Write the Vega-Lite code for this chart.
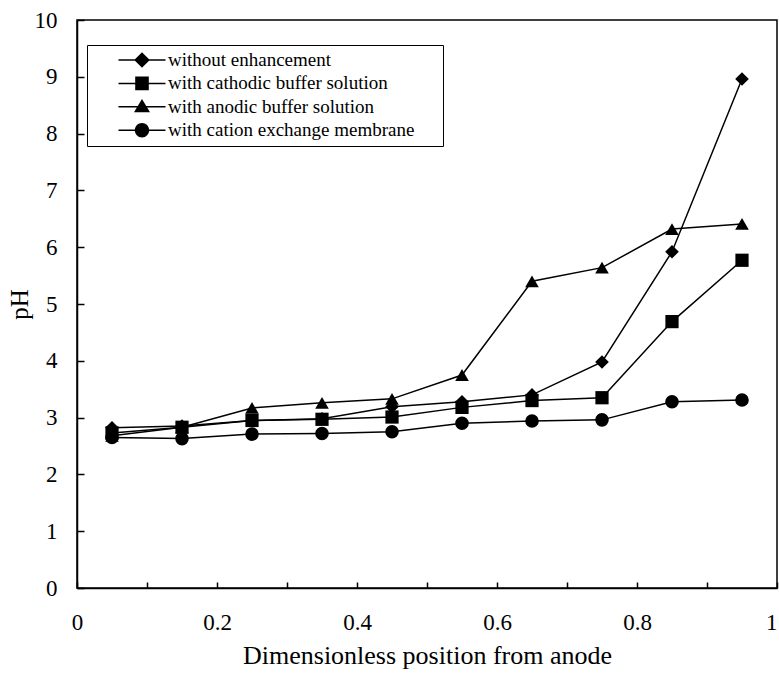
{
  "$schema": "https://vega.github.io/schema/vega-lite/v6.json",
  "width": 700,
  "height": 568,
  "autosize": {"type": "none"},
  "padding": {"left": 77, "top": 20, "right": 2, "bottom": 87},
  "background": "white",
  "config": {
    "font": "Liberation Serif",
    "view": {"stroke": "black", "strokeWidth": 1.5}
  },
  "data": {
    "values": [
      {"x": 0.05, "pH": 2.82, "series": "without enhancement"},
      {"x": 0.15, "pH": 2.85, "series": "without enhancement"},
      {"x": 0.25, "pH": 2.95, "series": "without enhancement"},
      {"x": 0.35, "pH": 2.98, "series": "without enhancement"},
      {"x": 0.45, "pH": 3.19, "series": "without enhancement"},
      {"x": 0.55, "pH": 3.28, "series": "without enhancement"},
      {"x": 0.65, "pH": 3.40, "series": "without enhancement"},
      {"x": 0.75, "pH": 3.98, "series": "without enhancement"},
      {"x": 0.85, "pH": 5.92, "series": "without enhancement"},
      {"x": 0.95, "pH": 8.96, "series": "without enhancement"},
      {"x": 0.05, "pH": 2.73, "series": "with cathodic buffer solution"},
      {"x": 0.15, "pH": 2.83, "series": "with cathodic buffer solution"},
      {"x": 0.25, "pH": 2.95, "series": "with cathodic buffer solution"},
      {"x": 0.35, "pH": 2.97, "series": "with cathodic buffer solution"},
      {"x": 0.45, "pH": 3.01, "series": "with cathodic buffer solution"},
      {"x": 0.55, "pH": 3.18, "series": "with cathodic buffer solution"},
      {"x": 0.65, "pH": 3.30, "series": "with cathodic buffer solution"},
      {"x": 0.75, "pH": 3.35, "series": "with cathodic buffer solution"},
      {"x": 0.85, "pH": 4.69, "series": "with cathodic buffer solution"},
      {"x": 0.95, "pH": 5.77, "series": "with cathodic buffer solution"},
      {"x": 0.05, "pH": 2.68, "series": "with anodic buffer solution"},
      {"x": 0.15, "pH": 2.83, "series": "with anodic buffer solution"},
      {"x": 0.25, "pH": 3.17, "series": "with anodic buffer solution"},
      {"x": 0.35, "pH": 3.26, "series": "with anodic buffer solution"},
      {"x": 0.45, "pH": 3.33, "series": "with anodic buffer solution"},
      {"x": 0.55, "pH": 3.75, "series": "with anodic buffer solution"},
      {"x": 0.65, "pH": 5.40, "series": "with anodic buffer solution"},
      {"x": 0.75, "pH": 5.64, "series": "with anodic buffer solution"},
      {"x": 0.85, "pH": 6.32, "series": "with anodic buffer solution"},
      {"x": 0.95, "pH": 6.41, "series": "with anodic buffer solution"},
      {"x": 0.05, "pH": 2.65, "series": "with cation exchange membrane"},
      {"x": 0.15, "pH": 2.63, "series": "with cation exchange membrane"},
      {"x": 0.25, "pH": 2.71, "series": "with cation exchange membrane"},
      {"x": 0.35, "pH": 2.72, "series": "with cation exchange membrane"},
      {"x": 0.45, "pH": 2.75, "series": "with cation exchange membrane"},
      {"x": 0.55, "pH": 2.90, "series": "with cation exchange membrane"},
      {"x": 0.65, "pH": 2.94, "series": "with cation exchange membrane"},
      {"x": 0.75, "pH": 2.96, "series": "with cation exchange membrane"},
      {"x": 0.85, "pH": 3.28, "series": "with cation exchange membrane"},
      {"x": 0.95, "pH": 3.31, "series": "with cation exchange membrane"}
    ]
  },
  "encoding": {
    "x": {
      "field": "x",
      "type": "quantitative",
      "scale": {"domain": [0, 1], "nice": false, "zero": false},
      "axis": {
        "title": "Dimensionless position from anode",
        "values": [0, 0.1, 0.2, 0.3, 0.4, 0.5, 0.6, 0.7, 0.8, 0.9, 1],
        "labelExpr": "round(datum.value * 10) % 2 == 0 ? format(datum.value, '~g') : ''",
        "labelAlign": {"condition": {"test": "datum.value == 1", "value": "right"}, "value": "center"},
        "grid": false,
        "domainColor": "black",
        "domainWidth": 1.5,
        "tickColor": "black",
        "tickWidth": 1.5,
        "tickSize": -6,
        "labelPadding": 29,
        "labelFontSize": 23,
        "labelColor": "black",
        "labelFont": "Liberation Serif",
        "labelFlush": false,
        "labelOverlap": false,
        "titleFont": "Liberation Serif",
        "titleFontSize": 26,
        "titleFontWeight": "normal",
        "titleColor": "black",
        "titlePadding": 8
      }
    },
    "y": {
      "field": "pH",
      "type": "quantitative",
      "scale": {"domain": [0, 10], "nice": false},
      "axis": {
        "title": "pH",
        "values": [0, 1, 2, 3, 4, 5, 6, 7, 8, 9, 10],
        "grid": false,
        "domainColor": "black",
        "domainWidth": 1.5,
        "tickColor": "black",
        "tickWidth": 1.5,
        "tickSize": -7,
        "labelPadding": 27,
        "labelFontSize": 23,
        "labelColor": "black",
        "labelFont": "Liberation Serif",
        "labelFlush": false,
        "labelOverlap": false,
        "titleFont": "Liberation Serif",
        "titleFontSize": 25,
        "titleFontWeight": "normal",
        "titleColor": "black",
        "titlePadding": 2
      }
    }
  },
  "layer": [
    {
      "mark": {"type": "line", "color": "black", "strokeWidth": 1.5},
      "encoding": {"detail": {"field": "series"}}
    },
    {
      "transform": [{"filter": "datum.series === 'without enhancement'"}],
      "mark": {"type": "point", "shape": "diamond", "filled": true, "color": "black", "opacity": 1, "size": 185},
      "encoding": {}
    },
    {
      "transform": [{"filter": "datum.series === 'with cathodic buffer solution'"}],
      "mark": {"type": "point", "shape": "square", "filled": true, "color": "black", "opacity": 1, "size": 175},
      "encoding": {}
    },
    {
      "transform": [{"filter": "datum.series === 'with anodic buffer solution'"}],
      "mark": {"type": "point", "shape": "triangle-up", "filled": true, "color": "black", "opacity": 1, "size": 185},
      "encoding": {}
    },
    {
      "transform": [{"filter": "datum.series === 'with cation exchange membrane'"}],
      "mark": {"type": "point", "shape": "circle", "filled": true, "color": "black", "opacity": 1, "size": 185},
      "encoding": {}
    },
    {
      "mark": {"type": "point", "filled": true, "color": "black", "opacity": 0, "size": 400},
      "encoding": {
        "shape": {
          "field": "series",
          "type": "nominal",
          "scale": {
            "domain": ["without enhancement", "with cathodic buffer solution", "with anodic buffer solution", "with cation exchange membrane"],
            "range": [
              "M-2.35,-0.075H2.35V0.075H-2.35ZM0,-0.78L0.78,0L0,0.78L-0.78,0ZM29.5,0L29.51,0Z",
              "M-2.35,-0.075H2.35V0.075H-2.35ZM-0.68,-0.68H0.68V0.68H-0.68ZM29.5,0L29.51,0Z",
              "M-2.35,-0.075H2.35V0.075H-2.35ZM0,-0.78L0.8,0.55H-0.8ZM29.5,0L29.51,0Z",
              "M-2.35,-0.075H2.35V0.075H-2.35ZM-0.72,0A0.72,0.72,0,1,1,0.72,0A0.72,0.72,0,1,1,-0.72,0ZM29.5,0L29.51,0Z"
            ]
          },
          "legend": {
            "title": null,
            "orient": "none",
            "legendX": 10,
            "legendY": 25,
            "padding": 5,
            "strokeColor": "black",
            "fillColor": "white",
            "symbolSize": 400,
            "symbolOpacity": 1,
            "symbolFillColor": "black",
            "symbolStrokeColor": "black",
            "symbolStrokeWidth": 0,
            "symbolOffset": 40,
            "labelOffset": 16,
            "rowPadding": 3.4,
            "labelFont": "Liberation Serif",
            "labelFontSize": 19,
            "labelColor": "black",
            "labelLimit": 400,
            "encode": {
              "symbols": {
                "fill": {"value": "black"},
                "opacity": {"value": 1}
              }
            }
          }
        }
      }
    }
  ]
}
